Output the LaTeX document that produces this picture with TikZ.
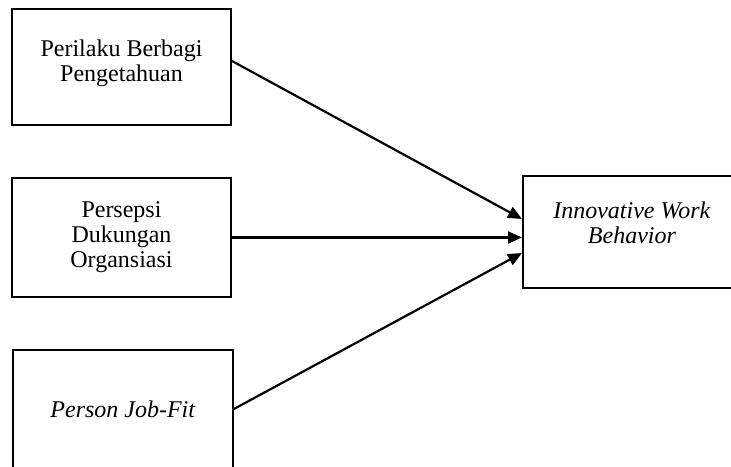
\documentclass[tikz,border=0pt]{standalone}
\usepackage{fontspec}
\setmainfont{Liberation Serif}
\usetikzlibrary{arrows.meta}
\begin{document}
\begin{tikzpicture}[x=1pt,y=-1pt,>={Triangle[length=14pt,width=12pt]},
	var node/.style = {draw,line width=2pt,inner sep=0pt,align=center,
		font=\fontsize{24}{25}\selectfont},
	var arrow/.style = {->,line width=2.2pt}]
	\useasboundingbox (0,0) rectangle (731,466);
	
	\node[var node,minimum width=219pt,minimum height=116pt] at (121.5,67) (pbp) {};
	\node[align=center,font=\fontsize{24}{25}\selectfont] at (121.5,63) (pbpt) {Perilaku Berbagi\\Pengetahuan};
	\node[var node,minimum width=219pt,minimum height=119pt] at (121.5,237.5) (pdo) {Persepsi\\Dukungan\\Organsiasi};
	\node[var node,draw=none,minimum width=218pt,minimum height=117pt] at (123,409.5) (pjf) {\textit{Person Job-Fit}};
	\node[var node,minimum width=218pt,minimum height=112pt] at (632,232) (iwb) {};
	\node[align=center,font=\fontsize{24}{25}\selectfont] at (632,223) (iwbt) {\textit{Innovative Work}\\\textit{Behavior}};
	\draw[line width=2pt] (pjf.south west) -- (pjf.north west) -- (pjf.north east) -- (pjf.south east);
	
	\draw[var arrow] ([yshift=6pt]pbp.east) -- ([yshift=13pt]iwb.west);
	\draw[var arrow] (pdo.east) -- (pdo.east -| iwb.west);
	\draw[var arrow] (pjf.east) -- ([yshift=-21pt]iwb.west);
\end{tikzpicture}
\end{document}
